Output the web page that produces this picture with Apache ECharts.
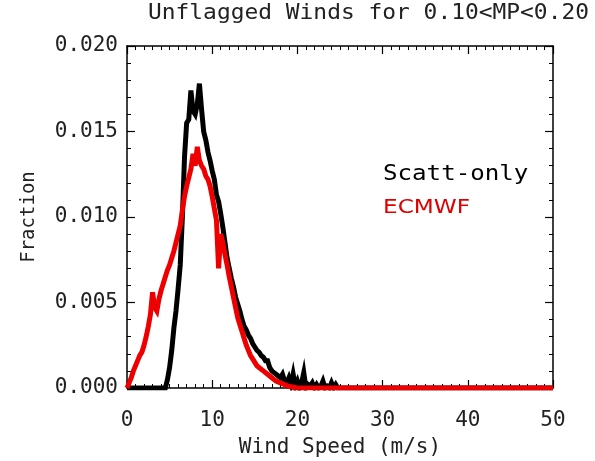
<!DOCTYPE html>
<html>
<head>
<meta charset="utf-8">
<script src="https://cdn.jsdelivr.net/npm/echarts@6/dist/echarts.min.js"></script>
<style>
  html, body { margin: 0; padding: 0; background: #fff; }
  #chart { width: 595px; height: 461px; }
</style>
</head>
<body>
<div id="chart"></div>
<script>
// Wind speed histograms (fraction of winds per 0.25 m/s bin)
const speedScatt = [0,0.25,0.5,0.75,1,1.25,1.5,1.75,2,2.25,2.5,2.75,3,3.25,3.5,3.75,4,4.25,4.5,4.75,5,5.25,5.5,5.75,6,6.25,6.5,6.75,7,7.25,7.5,7.75,8,8.25,8.5,8.75,9,9.25,9.5,9.75,10,10.25,10.5,10.75,11,11.25,11.5,11.75,12,12.25,12.5,12.75,13,13.25,13.5,13.75,14,14.25,14.5,14.75,15,15.25,15.5,15.75,16,16.25,16.5,16.75,17,17.25,17.5,17.75,18,18.25,18.5,18.75,19,19.25,19.5,19.75,20,20.25,20.5,20.75,21,21.25,21.5,21.75,22,22.25,22.5,22.75,23,23.25,23.5,23.75,24,24.25,24.5,24.75,25,50];
const fracScatt = [0,0,0,0,0,0,0,0,0,0,0,0,0,0,0,0,0,0,0,0.0005,0.0012,0.0022,0.0035,0.0045,0.0058,0.0072,0.0100,0.0135,0.0155,0.0157,0.0174,0.0162,0.0160,0.0166,0.0178,0.0163,0.0150,0.0145,0.0138,0.0133,0.0127,0.0122,0.0113,0.0109,0.0102,0.0094,0.0085,0.0076,0.0070,0.0064,0.0059,0.0053,0.0049,0.0045,0.0040,0.0036,0.0034,0.0031,0.0029,0.0026,0.0024,0.0022,0.0021,0.0019,0.0018,0.0016,0.0016,0.0012,0.0010,0.0009,0.0008,0.0007,0.0006,0.0008,0.0004,0.0003,0.0006,0.0002,0.0008,0.0001,0.0004,0,0.0003,0.0009,0,0.0002,0.0001,0.0003,0,0.0002,0,0.0001,0.0004,0,0.0001,0,0.0003,0,0.0002,0,0,0];

const speedEcmwf = [0,0.25,0.5,0.75,1,1.25,1.5,1.75,2,2.25,2.5,2.75,3,3.25,3.5,3.75,4,4.25,4.5,4.75,5,5.25,5.5,5.75,6,6.25,6.5,6.75,7,7.25,7.5,7.75,8,8.25,8.5,8.75,9,9.25,9.5,9.75,10,10.25,10.5,10.75,11,11.25,11.5,11.75,12,12.25,12.5,12.75,13,13.25,13.5,13.75,14,14.25,14.5,14.75,15,15.25,15.5,15.75,16,16.5,17,17.5,18,18.5,19,20,50];
const fracEcmwf = [0,0.0003,0.0006,0.0010,0.0013,0.0016,0.0019,0.0021,0.0025,0.0030,0.0036,0.0043,0.0056,0.0047,0.0045,0.0052,0.0057,0.0061,0.0065,0.0069,0.0072,0.0076,0.0080,0.0085,0.0090,0.0095,0.0104,0.0112,0.0118,0.0123,0.0128,0.0137,0.0130,0.0141,0.0133,0.0130,0.0128,0.0124,0.0122,0.0118,0.0112,0.0105,0.0098,0.0070,0.0090,0.0085,0.0078,0.0072,0.0065,0.0059,0.0053,0.0047,0.0041,0.0037,0.0033,0.0029,0.0025,0.0022,0.0019,0.0017,0.0015,0.0013,0.0012,0.0011,0.0010,0.0008,0.0006,0.0004,0.0003,0.0002,0.0001,0,0];

const xTicks = [0, 10, 20, 30, 40, 50];
const yTicks = [0, 0.005, 0.010, 0.015, 0.020];

const chartTitle = 'Unflagged Winds for 0.10<MP<0.20';
const xName = 'Wind Speed (m/s)';
const yName = 'Fraction';
const seriesNames = ['Scatt-only', 'ECMWF'];
const seriesColors = ['#000000', '#ee0000'];

const MONO = 'DejaVu Sans Mono';
const SANS = 'DejaVu Sans';
const TXT = '#222222';

function pairs(xs, ys) { return xs.map((x, i) => [x, ys[i]]); }

const tickCommon = {
  axisLine: { show: true, onZero: false, lineStyle: { color: '#000', width: 1.5 } },
  axisTick: { show: true, inside: true, length: 8, lineStyle: { color: '#000', width: 1.2 } },
  splitLine: { show: false }
};

const xBase = Object.assign({
  type: 'value', min: xTicks[0], max: xTicks[xTicks.length - 1], interval: 10,
  minorTick: { show: true, splitNumber: 10, length: 4, lineStyle: { color: '#000', width: 1 } }
}, tickCommon);

const yBase = Object.assign({
  type: 'value', min: yTicks[0], max: yTicks[yTicks.length - 1], interval: 0.005,
  minorTick: { show: true, splitNumber: 5, length: 4, lineStyle: { color: '#000', width: 1 } }
}, tickCommon);

// Slightly stretched text for the title and the series labels
function wideText(str, x, y, family, size, stretch, color) {
  return {
    type: 'text', x: x, y: y, scaleX: stretch, scaleY: 1, silent: true,
    style: { text: str, x: 0, y: 0, fill: color, align: 'left', verticalAlign: 'middle',
      font: size + 'px "' + family + '"' }
  };
}

const chart = echarts.init(document.getElementById('chart'), null, { renderer: 'canvas' });
chart.setOption({
  backgroundColor: '#ffffff',
  animation: false,
  grid: { left: 127, right: 42, top: 46, bottom: 73, containLabel: false, outerBoundsMode: 'none' },
  xAxis: [
    Object.assign({}, xBase, {
      position: 'bottom',
      name: xName, nameLocation: 'middle', nameGap: 49,
      nameTextStyle: { fontFamily: MONO, fontSize: 21, color: TXT },
      axisLabel: { show: true, margin: 22, fontFamily: MONO, fontSize: 21, color: TXT,
        formatter: v => String(v) }
    }),
    Object.assign({}, xBase, { position: 'top', axisLabel: { show: false } })
  ],
  yAxis: [
    Object.assign({}, yBase, {
      position: 'left',
      name: yName, nameLocation: 'middle', nameGap: 88, nameRotate: 90,
      nameTextStyle: { fontFamily: MONO, fontSize: 19, color: TXT },
      axisLabel: { show: true, margin: 9, fontFamily: MONO, fontSize: 21, color: TXT,
        formatter: v => v.toFixed(3) }
    }),
    Object.assign({}, yBase, { position: 'right', axisLabel: { show: false } })
  ],
  series: [
    {
      name: seriesNames[0], type: 'line', xAxisIndex: 0, yAxisIndex: 0,
      data: pairs(speedScatt, fracScatt), showSymbol: false, symbol: 'none',
      lineStyle: { color: seriesColors[0], width: 5, join: 'miter', miterLimit: 6 },
      z: 2
    },
    {
      name: seriesNames[1], type: 'line', xAxisIndex: 0, yAxisIndex: 0,
      data: pairs(speedEcmwf, fracEcmwf), showSymbol: false, symbol: 'none',
      lineStyle: { color: seriesColors[1], width: 5, join: 'miter', miterLimit: 6 },
      z: 3
    }
  ],
  graphic: [
    wideText(chartTitle, 148, 14, MONO, 21, 1.09, TXT),
    wideText(seriesNames[0], 383, 175, MONO, 21, 1.15, '#000000'),
    wideText(seriesNames[1], 383, 208, SANS, 20, 1.16, '#e00000')
  ]
});
</script>
</body>
</html>
